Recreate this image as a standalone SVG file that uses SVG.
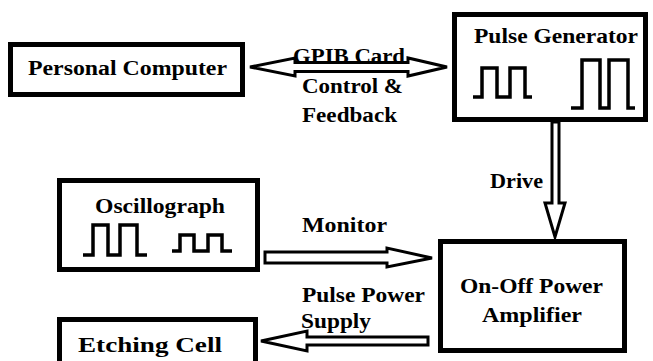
<svg xmlns="http://www.w3.org/2000/svg" width="653" height="361" viewBox="0 0 653 361">
<style>
.box{fill:#fff;stroke:#000;stroke-width:5}
.t{font-family:'Liberation Serif','DejaVu Serif',serif;font-weight:bold;font-size:20px;fill:#000}
.w{fill:none;stroke:#000;stroke-width:3.5;stroke-linejoin:miter}
.arr{fill:#fff;stroke:#000;stroke-width:3;stroke-linejoin:miter}
</style>
<rect width="653" height="361" fill="#fff"/>
<g id="connectors">
<polygon class="arr" points="250,67 295,58 295,62.5 408,62.5 408,58 447,67 408,76 408,71.5 295,71.5 295,76"/>
<polygon class="arr" points="552,122 559,122 559,203 565,203 555,237 545,203 552,203"/>
<polygon class="arr" points="265,252 387,252 387,248 432,258 387,267 387,263 265,263"/>
<polygon class="arr" points="428,337 307,337 307,331 261,341 307,351 307,345 428,345"/>
</g>
<g id="personal-computer">
<rect class="box" x="10.5" y="44.5" width="232" height="50"/>
<text class="t" x="28" y="75" textLength="199" lengthAdjust="spacingAndGlyphs">Personal Computer</text>
</g>
<g id="pulse-generator">
<rect class="box" x="454.5" y="14.5" width="191" height="105"/>
<text class="t" x="474" y="43" textLength="164" lengthAdjust="spacingAndGlyphs">Pulse Generator</text>
<polyline class="w" points="473,97 482,97 482,68 497,68 497,97 510,97 510,68 525,68 525,97 532,97"/>
<polyline class="w" points="571,108 582,108 582,60 600,60 600,108 609,108 609,60 628,60 628,108 635,108"/>
</g>
<g id="oscillograph">
<rect class="box" x="59.5" y="180.5" width="198" height="89"/>
<text class="t" x="95" y="213" textLength="130" lengthAdjust="spacingAndGlyphs">Oscillograph</text>
<polyline class="w" points="83,255 93,255 93,225 108,225 108,255 120,255 120,225 137,225 137,255 147,255"/>
<polyline class="w" points="172,251 180,251 180,235 194,235 194,251 208,251 208,235 222,235 222,251 232,251"/>
</g>
<g id="amplifier">
<rect class="box" x="440.5" y="241.5" width="184" height="109"/>
<text class="t" x="460" y="293" textLength="143" lengthAdjust="spacingAndGlyphs">On-Off Power</text>
<text class="t" x="482" y="322" textLength="100" lengthAdjust="spacingAndGlyphs">Amplifier</text>
</g>
<g id="etching-cell">
<rect class="box" x="59.5" y="319.5" width="196" height="50"/>
<text class="t" x="78" y="352" textLength="144" lengthAdjust="spacingAndGlyphs">Etching Cell</text>
</g>
<g id="labels">
<text class="t" x="293" y="63" textLength="112" lengthAdjust="spacingAndGlyphs">GPIB Card</text>
<text class="t" x="302" y="93" textLength="101" lengthAdjust="spacingAndGlyphs">Control &amp;</text>
<text class="t" x="302" y="122" textLength="95" lengthAdjust="spacingAndGlyphs">Feedback</text>
<text class="t" x="490" y="188" textLength="53" lengthAdjust="spacingAndGlyphs">Drive</text>
<text class="t" x="302" y="232" textLength="85" lengthAdjust="spacingAndGlyphs">Monitor</text>
<text class="t" x="302" y="302" textLength="123" lengthAdjust="spacingAndGlyphs">Pulse Power</text>
<text class="t" x="301" y="328" textLength="70" lengthAdjust="spacingAndGlyphs">Supply</text>
</g>
</svg>
